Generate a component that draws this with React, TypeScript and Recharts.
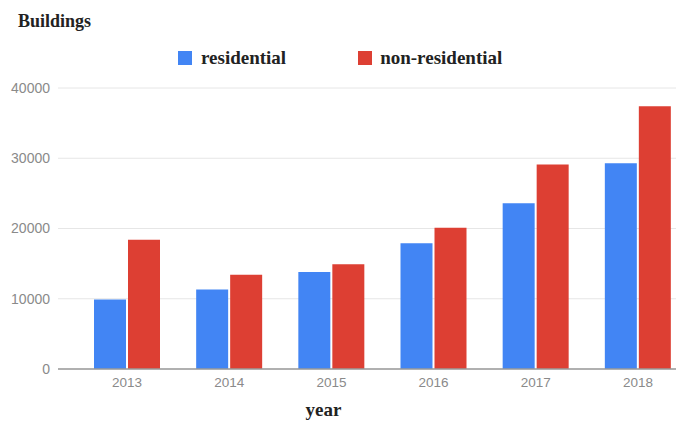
import React from 'react';
import { BarChart, Bar, XAxis, YAxis, CartesianGrid, Legend, Label } from 'recharts';

const years = ['2013', '2014', '2015', '2016', '2017', '2018'];
const residential = [9900, 11300, 13800, 17900, 23600, 29300];
const nonResidential = [18400, 13400, 14900, 20100, 29100, 37400];
const yTicks = [0, 10000, 20000, 30000, 40000];

const data = years.map((y, i) => ({ year: y, residential: residential[i], nonResidential: nonResidential[i] }));

const BLUE = '#4285f4';
const RED = '#dd3f33';
const serif = '"Liberation Serif", "Times New Roman", serif';
const sans = 'Arial, "Liberation Sans", sans-serif';

const LegendContent = () => (
  <div style={{ display: 'flex', alignItems: 'center', fontFamily: serif, fontWeight: 'bold', fontSize: 19, color: '#222', whiteSpace: 'nowrap' }}>
    <span style={{ display: 'inline-block', width: 14, height: 14, background: BLUE, marginRight: 9 }} />
    <span style={{ marginRight: 72 }}>residential</span>
    <span style={{ display: 'inline-block', width: 14, height: 14, background: RED, marginRight: 8 }} />
    <span>non-residential</span>
  </div>
);

export default function App() {
  return (
    <div style={{ position: 'absolute', left: 0, top: 0, width: 676, height: 423, overflow: 'hidden', background: '#fff' }}>
      <div style={{ position: 'absolute', left: 18, top: 11, fontFamily: serif, fontWeight: 'bold', fontSize: 18, color: '#222' }}>Buildings</div>
      <BarChart width={700} height={423} data={data} margin={{ top: 88, right: 11, bottom: 24, left: 0 }} barSize={32} barGap={2}>
        <CartesianGrid vertical={false} stroke="#e6e6e6" />
        <XAxis dataKey="year" height={30} padding={{ left: 18, right: 0 }} tickLine={false} axisLine={{ stroke: '#9a9a9a', strokeWidth: 1.5 }} tick={{ fill: '#8a8a8a', fontSize: 13.5, fontFamily: sans }} tickMargin={2}>
          <Label value="year" position="bottom" offset={4} dx={-50} style={{ fontFamily: serif, fontWeight: 'bold', fontSize: 19, fill: '#222' }} />
        </XAxis>
        <YAxis width={58} domain={[0, 40000]} ticks={yTicks} tickLine={false} axisLine={false} tick={{ fill: '#8a8a8a', fontSize: 14, fontFamily: sans }} tickMargin={2} />
        <Legend verticalAlign="middle" layout="horizontal" content={<LegendContent />} wrapperStyle={{ position: 'absolute', top: 47, left: 178, width: 'auto' }} />
        <Bar dataKey="residential" fill={BLUE} isAnimationActive={false} />
        <Bar dataKey="nonResidential" fill={RED} isAnimationActive={false} />
      </BarChart>
    </div>
  );
}
